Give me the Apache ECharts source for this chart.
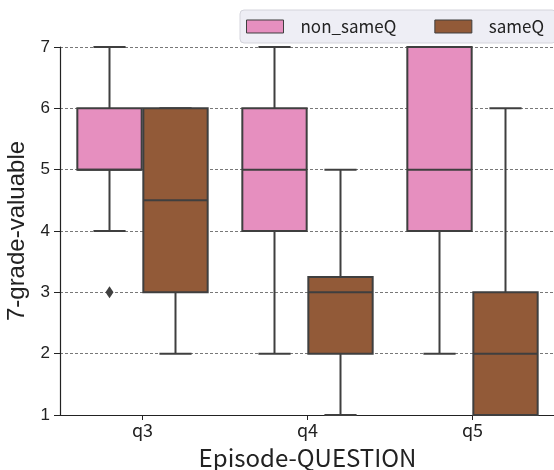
<!DOCTYPE html>
<html><head><meta charset="utf-8">
<script src="https://cdn.jsdelivr.net/npm/echarts@6/dist/echarts.min.js"></script>
<style>html,body{margin:0;padding:0;background:#fff}#c{width:554px;height:470px}</style>
</head><body><div id="c"></div>
<script>
const categories = ['q3', 'q4', 'q5'];
const seriesNames = ['non_sameQ', 'sameQ'];
// [min, Q1, median, Q3, max] per category
const nonSameQ = [[4, 5, 5, 6, 7], [2, 4, 5, 6, 7], [2, 4, 5, 7, 7]];
const sameQ = [[2, 3, 4.5, 6, 6], [1, 2, 3, 3.25, 5], [1, 1, 2, 3, 6]];
// [categoryIndex, value]
const nonSameQOutliers = [[0, 3]];
const sameQOutliers = [];
const yTicks = [1, 2, 3, 4, 5, 6, 7];

const colors = ['#e68fbf', '#925a38'];
const edge = '#3f3f3f';
const FONT = '"Noto Sans CJK JP", "Noto Sans", sans-serif';
const YFONT = '"Liberation Sans", Arial, sans-serif';

function boxRender(hueIndex) {
  return function (params, api) {
    const cat = api.value(0);
    const band = api.size([1, 0])[0];
    const off = (hueIndex === 0 ? -1 : 1) * band * 0.2;
    const bw = band * 0.39;
    const cx = api.coord([cat, 0])[0] + off;
    const y = v => api.coord([cat, v])[1];
    const ymin = y(api.value(1)), yq1 = y(api.value(2)), ymed = y(api.value(3)),
          yq3 = y(api.value(4)), ymax = y(api.value(5));
    const cap = bw / 2;
    const ls = { stroke: edge, lineWidth: 2, fill: null };
    return {
      type: 'group',
      children: [
        { type: 'line', shape: { x1: cx, y1: yq1, x2: cx, y2: ymin }, style: ls },
        { type: 'line', shape: { x1: cx, y1: yq3, x2: cx, y2: ymax }, style: ls },
        { type: 'line', shape: { x1: cx - cap / 2, y1: ymin, x2: cx + cap / 2, y2: ymin }, style: ls },
        { type: 'line', shape: { x1: cx - cap / 2, y1: ymax, x2: cx + cap / 2, y2: ymax }, style: ls },
        { type: 'rect', shape: { x: cx - bw / 2, y: yq3, width: bw, height: yq1 - yq3 },
          style: { fill: colors[hueIndex], stroke: edge, lineWidth: 2 } },
        { type: 'line', shape: { x1: cx - bw / 2, y1: ymed, x2: cx + bw / 2, y2: ymed }, style: ls }
      ]
    };
  };
}
function outlierRender(hueIndex) {
  return function (params, api) {
    const cat = api.value(0);
    const band = api.size([1, 0])[0];
    const off = (hueIndex === 0 ? -1 : 1) * band * 0.2;
    const p = api.coord([cat, api.value(1)]);
    const x = p[0] + off, yy = p[1];
    return { type: 'polygon', shape: { points: [[x, yy - 6], [x + 4, yy], [x, yy + 6], [x - 4, yy]] },
      style: { fill: edge } };
  };
}
function boxData(arr) { return arr.map((d, i) => [i].concat(d)); }

const chart = echarts.init(document.getElementById('c'), null, { renderer: 'canvas' });
chart.setOption({
  animation: false,
  backgroundColor: '#fff',
  grid: { left: 60, right: -1, top: 47, bottom: 55, containLabel: false, outerBoundsMode: 'none' },
  legend: {
    left: 240, top: 10, width: 340, orient: 'horizontal',
    padding: [8, 12, 8, 6],
    backgroundColor: '#eeeef5',
    borderColor: '#d4d4dc', borderWidth: 1, borderRadius: 4,
    itemWidth: 37, itemHeight: 13, itemGap: 38,
    textStyle: { fontFamily: FONT, fontSize: 17, color: '#222', padding: [0, 0, 0, 12] },
    data: [
      { name: seriesNames[0], icon: 'rect', itemStyle: { color: colors[0], borderColor: edge, borderWidth: 1 } },
      { name: seriesNames[1], icon: 'rect', itemStyle: { color: colors[1], borderColor: edge, borderWidth: 1 } }
    ]
  },
  xAxis: {
    type: 'category', data: categories,
    name: 'Episode-QUESTION', nameLocation: 'middle', nameGap: 31,
    nameTextStyle: { fontFamily: FONT, fontSize: 24, color: '#222' },
    axisLine: { show: true, lineStyle: { color: '#222', width: 1.2 } },
    axisTick: { show: true, alignWithLabel: true, length: 5, lineStyle: { color: '#222' } },
    axisLabel: { fontFamily: FONT, fontSize: 18, color: '#222', margin: 6 },
    splitLine: { show: false }
  },
  yAxis: {
    type: 'value', min: 1, max: 7, interval: 1,
    name: '7-grade-valuable', nameLocation: 'middle', nameGap: 30,
    nameTextStyle: { fontFamily: YFONT, fontSize: 24, color: '#222' },
    axisLine: { show: true, lineStyle: { color: '#222', width: 1.2 } },
    axisTick: { show: true, length: 6, lineStyle: { color: '#222' } },
    axisLabel: { fontFamily: YFONT, fontSize: 17, color: '#222', margin: 10,
      formatter: v => yTicks.includes(v) ? String(v) : '' },
    splitLine: { show: true, lineStyle: { color: '#555', width: 0.8, type: [3, 2] } }
  },
  series: [
    { name: seriesNames[0], type: 'custom', renderItem: boxRender(0), data: boxData(nonSameQ),
      itemStyle: { color: colors[0] }, encode: { x: 0, y: [1, 2, 3, 4, 5] }, z: 3 },
    { name: seriesNames[1], type: 'custom', renderItem: boxRender(1), data: boxData(sameQ),
      itemStyle: { color: colors[1] }, encode: { x: 0, y: [1, 2, 3, 4, 5] }, z: 3 },
    { name: seriesNames[0], type: 'custom', renderItem: outlierRender(0), data: nonSameQOutliers,
      encode: { x: 0, y: 1 }, z: 4 },
    { name: seriesNames[1], type: 'custom', renderItem: outlierRender(1), data: sameQOutliers,
      encode: { x: 0, y: 1 }, z: 4 }
  ]
});
</script></body></html>
